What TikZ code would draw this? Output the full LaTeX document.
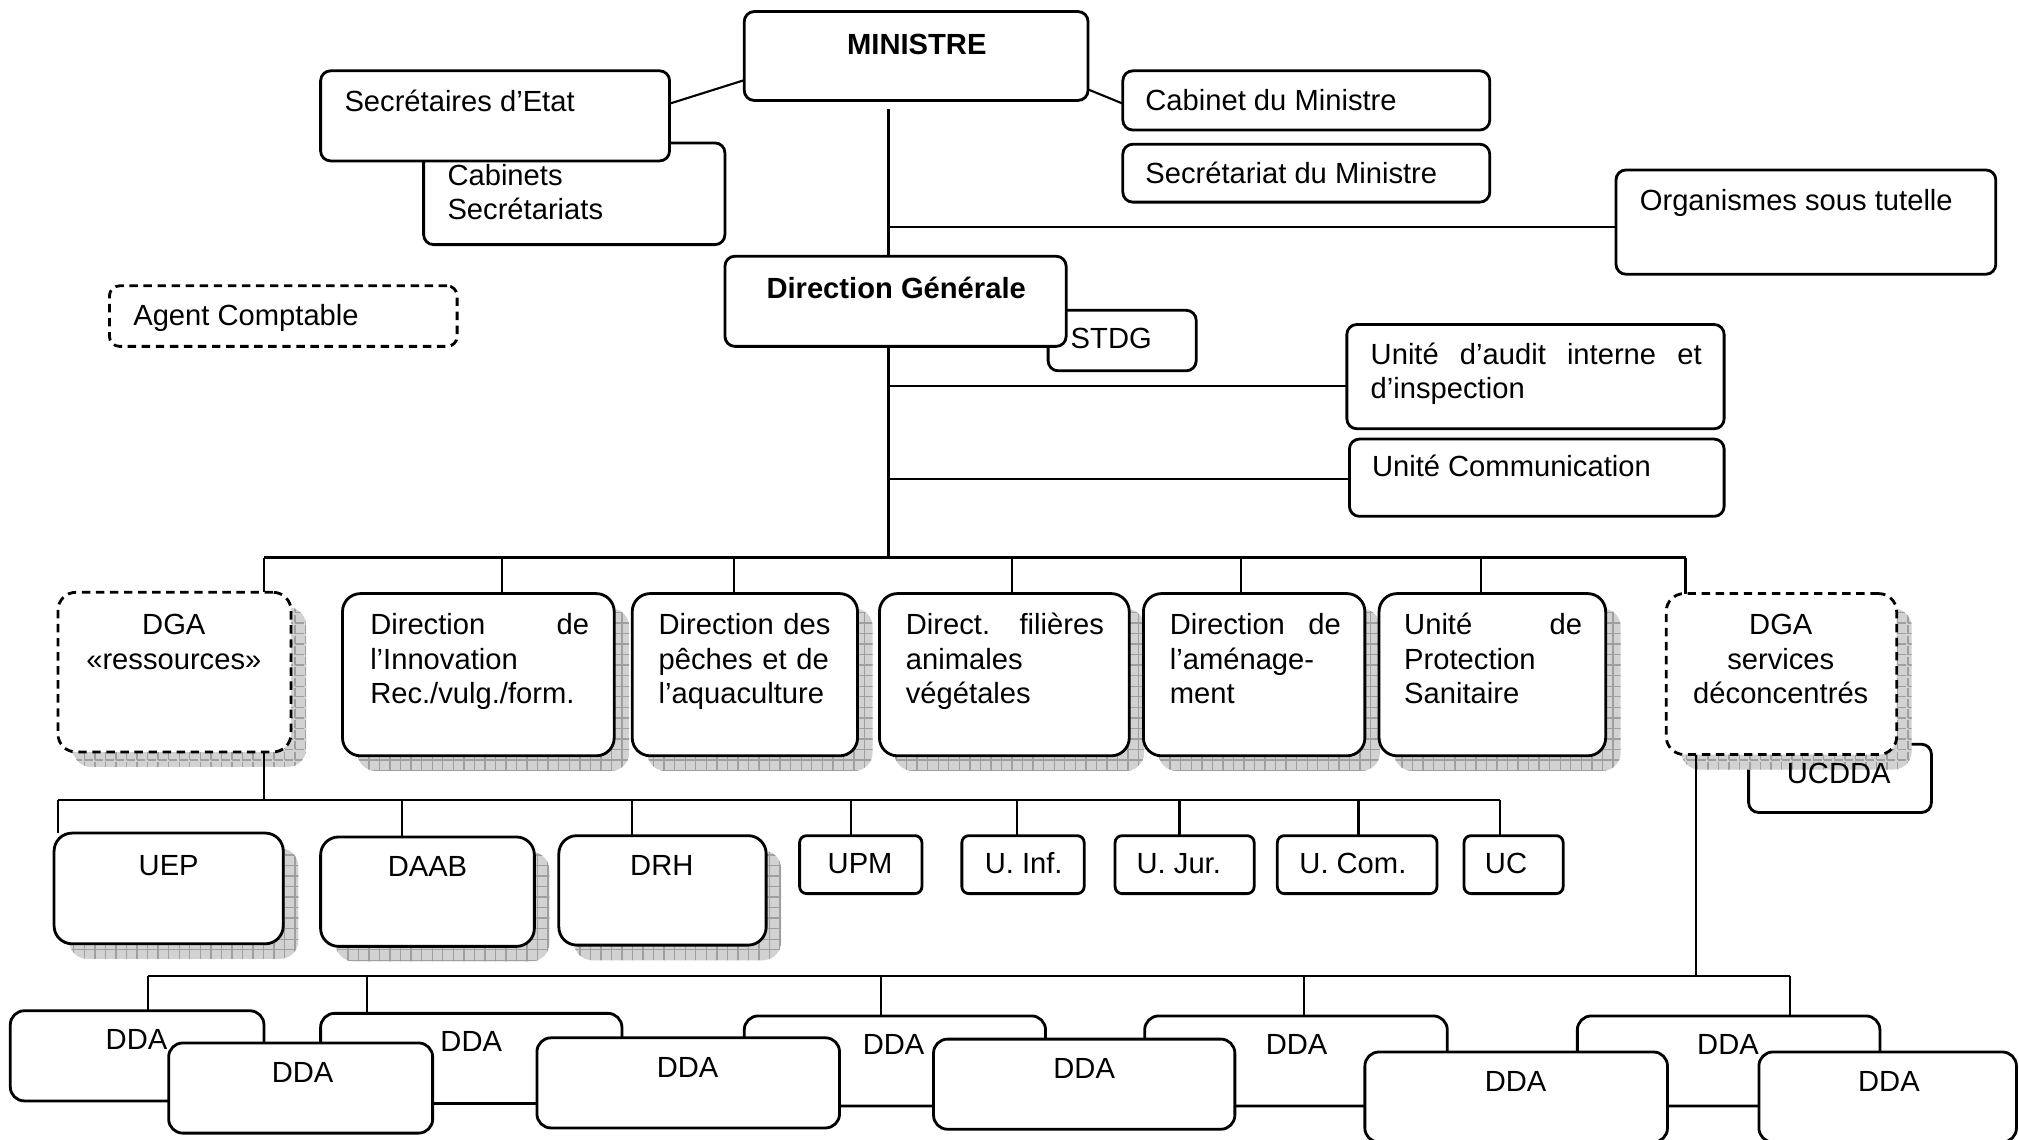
\documentclass[tikz,border=0pt]{standalone}
\usepackage{fontspec}
\setmainfont{Liberation Sans}
\usetikzlibrary{fit,shadows,patterns}

\begin{document}
\begin{tikzpicture}[
		x=0.012876cm, y=-0.012876cm,
		box/.style={draw, line width=0.8pt, fill=white, rounded corners=1mm, inner sep=0pt, outer sep=0pt},
		bigbox/.style={box, rounded corners=1.8mm},
		ddabox/.style={box, rounded corners=1.4mm},
		smallbox/.style={box, rounded corners=0.7mm},
		dashbox/.style={dash pattern=on 2.4pt off 1.6pt},
		hatched/.style={general shadow={fill=gray!35, shadow xshift=1.5mm, shadow yshift=-1.5mm,
				postaction={pattern=grid, pattern color=gray!75}}},
		txt/.style={font=\fontsize{8.3}{9.8}\selectfont, inner sep=0pt},
		lt/.style={txt, anchor=base west},
		ct/.style={txt, anchor=base},
		bold/.style={font=\fontsize{8.3}{9.8}\selectfont\bfseries},
		link/.style={line width=0.6pt}
		]
		
		\useasboundingbox (0,0) rectangle (1568,885);
		
		% -------------------------------------------------
		% Ministre et cabinets
		% -------------------------------------------------
		\node[box, fit={(329,111) (563,190)}] (cabsec) {};
		\node[lt, text width=3cm, align=left] (cabsecT) at (347,143.7) {Cabinets\\Secrétariats};
		\node[box, fit={(249,55) (520,125)}] (sec) {};
		\node[lt] (secT) at (267,86.5) {Secrétaires d’Etat};
		\node[box, fit={(578,9) (845,78)}] (min) {};
		\node[ct, bold] (minT) at (712,42) {MINISTRE};
		\node[box, fit={(872,55) (1157,101)}] (cab) {};
		\node[lt] (cabT) at (889,85.5) {Cabinet du Ministre};
		\node[box, fit={(872,112) (1157,157)}] (secm) {};
		\node[lt] (secmT) at (889,142.8) {Secrétariat du Ministre};
		\node[box, fit={(1255,132) (1550,213)}] (org) {};
		\node[lt] (orgT) at (1273,163.6) {Organismes sous tutelle};
		
		% -------------------------------------------------
		% Direction generale
		% -------------------------------------------------
		\node[box, fit={(814,241) (929,288)}] (stdg) {};
		\node[lt] (stdgT) at (831,271) {STDG};
		\node[box, fit={(563,199) (828,269)}] (dg) {};
		\node[ct, bold] (dgT) at (696,231.7) {Direction Générale};
		\node[box, dashbox, fit={(85,222) (355,269)}] (agent) {};
		\node[lt] (agentT) at (103,252.5) {Agent Comptable};
		\node[box, fit={(1046,252) (1339,333)}] (aud) {};
		\node[lt, text width=3.31cm, align=left] (audT) at (1064,283) {Unité\hfill d’audit\hfill interne\hfill et\\d’inspection};
		\node[box, fit={(1048,341) (1339,401)}] (com) {};
		\node[lt] (comT) at (1065,370) {Unité Communication};
		
		% -------------------------------------------------
		% Directions
		% -------------------------------------------------
		\node[bigbox, dashbox, hatched, fit={(45,460) (226,584)}] (dgar) {};
		\node[ct, text width=2.2cm, align=center] (dgarT) at (135,493) {DGA\\«ressources»};
		\node[bigbox, hatched, fit={(266,461) (477,587)}] (inno) {};
		\node[lt, text width=2.19cm, align=left] (innoT) at (287,493) {Direction\hfill de\\l’Innovation\\Rec./vulg./form.};
		\node[bigbox, hatched, fit={(491,461) (666,587)}] (pec) {};
		\node[lt, text width=2cm, align=left] (pecT) at (511,493) {Direction des\\pêches et de\\l’aquaculture};
		\node[bigbox, hatched, fit={(683,461) (877,587)}] (fil) {};
		\node[lt, text width=1.98cm, align=left] (filT) at (703,493) {Direct.\hfill filières\\animales\\végétales};
		\node[bigbox, hatched, fit={(888,461) (1060,587)}] (amen) {};
		\node[lt, text width=1.71cm, align=left] (amenT) at (908,493) {Direction\hfill de\\l’aménage-\\ment};
		\node[bigbox, hatched, fit={(1071,461) (1247,587)}] (ups) {};
		\node[lt, text width=1.78cm, align=left] (upsT) at (1090,493) {Unité\hfill de\\Protection\\Sanitaire};
		\node[box, fit={(1358,578) (1500,631)}] (ucdda) {};
		\node[bigbox, dashbox, hatched, fit={(1294,461) (1473,586)}] (dgas) {};
		\node[ct, text width=2.2cm, align=center] (dgasT) at (1383,493) {DGA\\services\\déconcentrés};
		\node[ct] (ucddaT) at (1428,608.4) {UCDDA};
		
		% -------------------------------------------------
		% Services DGA ressources
		% -------------------------------------------------
		\node[bigbox, hatched, fit={(42,647) (220,733)}] (uep) {};
		\node[ct] (uepT) at (131,679.6) {UEP};
		\node[bigbox, hatched, fit={(249,650) (415,735)}] (daab) {};
		\node[ct] (daabT) at (332,681) {DAAB};
		\node[bigbox, hatched, fit={(434,649) (595,734)}] (drh) {};
		\node[ct] (drhT) at (514,679.6) {DRH};
		\foreach \a/\b/\c/\n/\t in {621/716/668/upm/UPM, 747/842/795/uinf/U. Inf., 866/974/915.5/ujur/U. Jur., 992/1116/1050.7/ucom/U. Com., 1137/1214/1169.6/uc/UC}
		{
			\node[smallbox, fit={(\a,649) (\b,694)}] (\n) {};
			\node[ct] (\n-t) at (\c,678.3) {\t};
		}
		
		% -------------------------------------------------
		% DDA
		% -------------------------------------------------
		\foreach \a/\b/\c/\y/\n in {8/205/106/785/dda1, 249/483/366/787/dda3, 578/812/694/789/dda5, 889/1124/1007/789/dda7, 1225/1460/1342/789/dda9}
		{
			\node[ddabox, fit={(\a,\y) (\b,\y+70)}] (\n) {};
			\node[ct] (\n-t) at (\c,\y+30) {DDA};
		}
		\foreach \a/\b/\c/\y/\n in {131/336/235/810/dda2, 417/652/534/806/dda4, 725/959/842/807/dda6, 1060/1295/1177/817/dda8, 1366/1566/1467/817/dda10}
		{
			\node[ddabox, fit={(\a,\y) (\b,\y+70)}] (\n) {};
			\node[ct] (\n-t) at (\c,\y+30.5) {DDA};
		}
		
		% -------------------------------------------------
		% Liaisons
		% -------------------------------------------------
		\draw[link] (sec.4) -- (min.188);
		\draw[link] (min.-11) -- (cab.181);
		
		\coordinate (top) at (690,85);
		\coordinate (j1) at (690,176);
		\coordinate (j2) at (690,300);
		\coordinate (j3) at (690,372);
		\coordinate (b1) at (690,433);
		\draw[link] (top) -- (top |- dg.north);
		\draw[link] (top |- dg.south) -- (b1);
		\draw[link] (j1) -- (j1 -| org.west);
		\draw[link] (j2) -- (j2 -| aud.west);
		\draw[link] (j3) -- (j3 -| com.west);
		
		\coordinate (bus1w) at (205,433);
		\coordinate (bus1e) at (1309,433);
		\draw[link] (bus1w) -- (bus1e);
		\foreach \x/\n in {205/dgar, 390/inno, 570/pec, 786/fil, 964/amen, 1150/ups, 1309/dgas}
		\draw[link] (b1 -| \x,0) -- (\n.north -| \x,0);
		
		\coordinate (b2) at (205,621);
		\coordinate (bus2w) at (45,621);
		\coordinate (bus2e) at (1165,621);
		\draw[link] (b2 |- dgar.south) -- (b2);
		\draw[link] (bus2w) -- (bus2e);
		\foreach \x/\n in {45/uep, 312/daab, 491/drh, 661/upm, 790/uinf, 916/ujur, 1055/ucom, 1165/uc}
		\draw[link] (b2 -| \x,0) -- (\n.north -| \x,0);
		
		\coordinate (b3) at (1317,758);
		\coordinate (bus3w) at (115,758);
		\coordinate (bus3e) at (1390,758);
		\draw[link] (b3 |- dgas.south) -- (b3);
		\draw[link] (bus3w) -- (bus3e);
		\foreach \x/\n in {115/dda1, 285/dda3, 684/dda5, 1013/dda7, 1390/dda9}
		\draw[link] (b3 -| \x,0) -- (\n.north -| \x,0);
		
	\end{tikzpicture}
\end{document}
